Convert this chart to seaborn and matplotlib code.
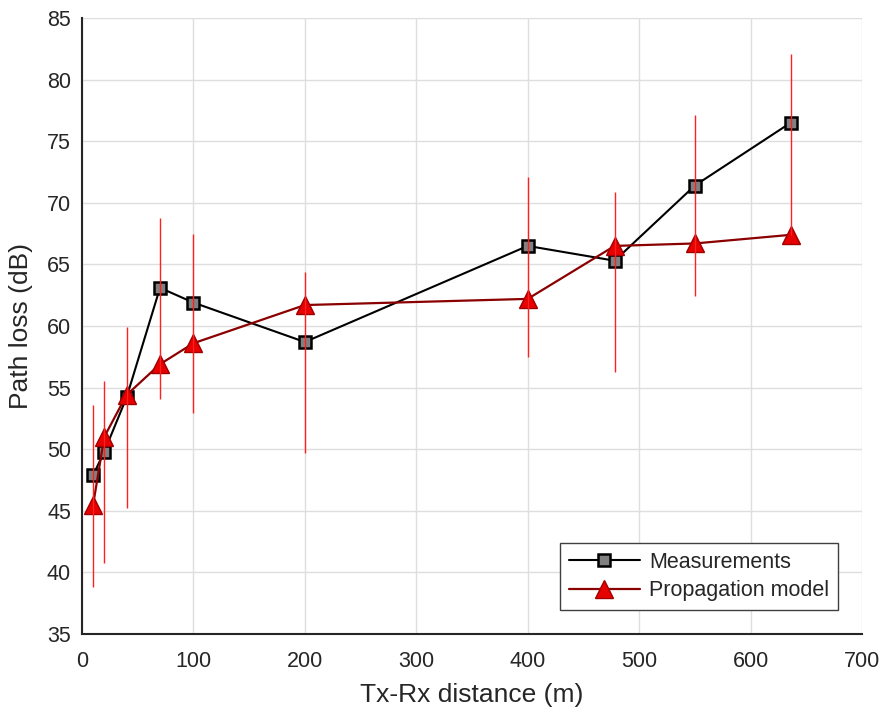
import matplotlib
matplotlib.use("Agg")
import matplotlib.pyplot as plt
import seaborn as sns
import pandas as pd
import numpy as np

distance = [10, 20, 40, 70, 100, 200, 400, 478, 550, 636]
measured = [47.9, 49.8, 54.2, 63.1, 61.9, 58.7, 66.5, 65.3, 71.4, 76.5]
model = [45.5, 51.0, 54.4, 56.9, 58.6, 61.7, 62.2, 66.5, 66.7, 67.4]
err_low = [38.8, 40.8, 45.2, 54.1, 52.9, 49.7, 57.5, 56.3, 62.4, 67.4]
err_high = [53.6, 55.5, 59.9, 68.8, 67.5, 64.4, 72.1, 70.9, 77.1, 82.1]

sns.set_style("white")
plt.rcParams['font.family'] = ['Liberation Sans', 'DejaVu Sans']

fig = plt.figure(figsize=(8.84, 7.10), dpi=100)
ax = fig.add_axes([82/884, 1-634/710, 780/884, 616/710])

df = pd.DataFrame({"distance": distance, "measured": measured, "model": model})

sns.lineplot(data=df, x="distance", y="measured", ax=ax, color="black", lw=1.5,
             marker="s", markersize=8, markerfacecolor="#808080",
             markeredgecolor="black", markeredgewidth=1.8, label="Measurements", zorder=3)
sns.lineplot(data=df, x="distance", y="model", ax=ax, color="#8b0000", lw=1.6,
             marker="^", markersize=12.5, markerfacecolor="#e60000",
             markeredgecolor="#a00000", markeredgewidth=1.0, label="Propagation model", zorder=4)

ax.vlines(distance, err_low, err_high, color="#ff2020", lw=1.0, zorder=5)

ax.set_xlim(0, 700)
ax.set_ylim(35, 85)
ax.set_xticks(np.arange(0, 701, 100))
ax.set_yticks(np.arange(35, 86, 5))
ax.grid(True, color="#dedede", lw=1.0)
ax.set_axisbelow(True)
ax.spines["top"].set_visible(False)
ax.spines["right"].set_visible(False)
for s in ("left", "bottom"):
    ax.spines[s].set_color("#262626")
    ax.spines[s].set_linewidth(1.5)
ax.tick_params(axis="both", direction="in", length=8, width=1.5, color="#262626",
               labelsize=15.5, labelcolor="#262626", pad=8)
ax.tick_params(axis="x", pad=12)
ax.set_xlabel("Tx-Rx distance (m)", fontsize=19, color="#262626", labelpad=8)
ax.set_ylabel("Path loss (dB)", fontsize=19, color="#262626", labelpad=10)

leg = ax.legend(loc="lower right", bbox_to_anchor=(838/884, 1-610/710),
                bbox_transform=fig.transFigure, fontsize=15.5, frameon=True,
                fancybox=False, edgecolor="#404040", framealpha=1, borderaxespad=0,
                handlelength=3.3, handletextpad=0.45, borderpad=0.4, labelspacing=0.35)
leg.get_frame().set_linewidth(1.0)

fig.savefig("out.png", dpi=100)
